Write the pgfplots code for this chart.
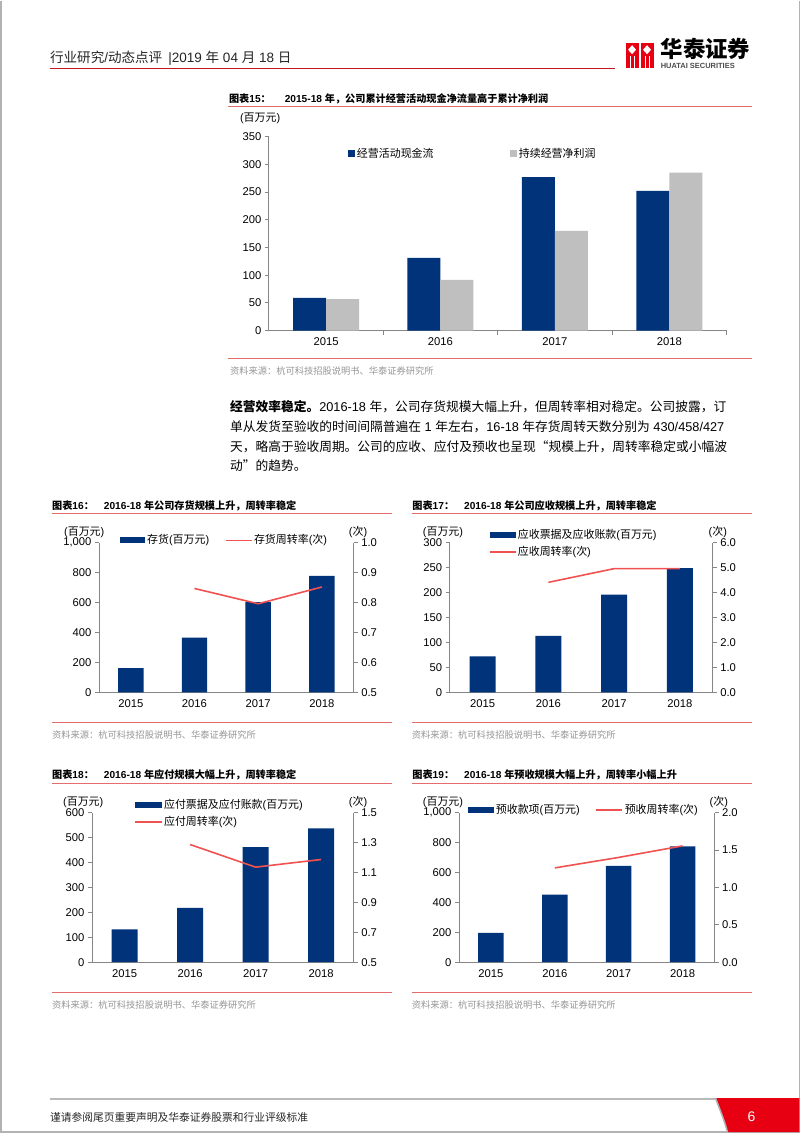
\documentclass[border=0pt]{standalone}
\usepackage{fontspec}
\setmainfont{Liberation Sans}
\newfontfamily\cjkfont{Noto Sans CJK SC}
\usepackage{pgfplots}
\pgfplotsset{compat=1.18}
\XeTeXinterchartokenstate=1
\newXeTeXintercharclass\CJKcls
\makeatletter
\def\setcjkrange#1#2{\count@=#1\relax\loop\XeTeXcharclass\count@=\CJKcls\relax\ifnum\count@<#2\advance\count@ by 1\relax\repeat}
\makeatother
\setcjkrange{"201C}{"201D}
\setcjkrange{"3000}{"303F}
\setcjkrange{"4E00}{"9FFF}
\setcjkrange{"FF00}{"FFEF}
\XeTeXinterchartoks 0 \CJKcls = {\cjkfont}
\XeTeXinterchartoks 4095 \CJKcls = {\cjkfont}
\XeTeXinterchartoks \CJKcls 0 = {\rmfamily}
\XeTeXinterchartoks \CJKcls 4095 = {\rmfamily}

\definecolor{navy}{RGB}{0,51,122}
\definecolor{barGray}{RGB}{191,191,191}
\definecolor{lineRed}{RGB}{240,82,82}
\definecolor{sepRed}{RGB}{228,110,110}
\definecolor{hdrRed}{RGB}{200,20,30}
\definecolor{axisGray}{RGB}{134,134,134}
\definecolor{logoRed}{RGB}{230,0,18}
\definecolor{srcGray}{RGB}{150,150,150}

\pgfplotsset{
  pagechart/.style={scale only axis, axis line style={draw=axisGray,line width=0.8bp},
    tick style={draw=axisGray,line width=0.8bp}, tick align=outside, major tick length=4bp,
    minor tick length=4bp,
    tick label style={font=\fontsize{11.3}{11.3}\selectfont, /pgf/number format/assume math mode=true},
    xmin=-0.5, xmax=3.5, enlargelimits=false},
  barside/.style={pagechart, axis x line*=bottom, axis y line*=left, xtick={0,1,2,3},
    xticklabels={2015,2016,2017,2018}, major x tick style=transparent, ybar},
  lineside/.style={pagechart, axis y line*=right, axis x line=none,
    yticklabel style={/pgf/number format/.cd, fixed, fixed zerofill, precision=1}},
}
\newcommand\lbl{\fontsize{11}{13}\selectfont}
\newcommand\ttl{\bfseries\fontsize{10.2}{12}\selectfont}
\newcommand\src{\fontsize{9.3}{11}\selectfont}

\begin{document}
\begin{tikzpicture}
\begin{scope}[x=1bp,y=-1bp]
\fill[white] (0,0) rectangle (802,1133);
\draw[gray!60, line width=1.5bp] (1,0)--(1,1132.2)--(800,1132.2)--(800,0);
% header
\node[anchor=west, inner sep=0, font=\fontsize{13.6}{15}\selectfont, text=black!85] at (50,57) {行业研究/动态点评 \,|2019 年 04 月 18 日};
\draw[hdrRed, line width=1.5bp] (50,68)--(615,68);
% logo
\fill[logoRed] (626,42) rectangle (639,67);
\fill[logoRed] (641,42) rectangle (654,67);
\fill[white] (632.5,44.5)--(636.5,49)--(632.5,53.5)--(628.5,49)--cycle;
\fill[white] (647.5,44.5)--(651.5,49)--(647.5,53.5)--(643.5,49)--cycle;
\fill[white] (630,55) rectangle (631.2,67);
\fill[white] (634,55) rectangle (635.2,67);
\fill[white] (645,55) rectangle (646.2,67);
\fill[white] (649,55) rectangle (650.2,67);
\node[anchor=west, inner sep=0, font=\bfseries\fontsize{22.5}{24}\selectfont] at (661,48) {华泰证券};
\node[anchor=west, inner sep=0, font=\bfseries\fontsize{7.5}{8}\selectfont, text=black!70] at (661,65.5) {HUATAI SECURITIES};

% chart 15 decorations
\node[anchor=west, inner sep=0, font=\ttl] at (229,98) {图表15：\hspace{14bp}2015-18 年，公司累计经营活动现金净流量高于累计净利润};
\draw[sepRed, line width=0.8bp] (228,106)--(752,106);
\node[anchor=west, inner sep=0, font=\lbl] at (240,118) {(百万元)};
\fill[navy] (348,149.5) rectangle (355,156.5);
\node[anchor=west, inner sep=0, font=\lbl] at (357,153) {经营活动现金流};
\fill[barGray] (510,149.5) rectangle (517,156.5);
\node[anchor=west, inner sep=0, font=\lbl] at (519,153) {持续经营净利润};
\draw[sepRed, line width=0.8bp] (228,358)--(752,358);
\node[anchor=west, inner sep=0, font=\src, text=srcGray] at (230,370) {资料来源：杭可科技招股说明书、华泰证券研究所};

% paragraph
\begin{scope}[every node/.style={anchor=west, inner sep=0, font=\fontsize{12.8}{15}\selectfont}]
\node at (230,406) {{\bfseries 经营效率稳定。}2016-18 年，公司存货规模大幅上升，但周转率相对稳定。公司披露，订};
\node at (230,426) {单从发货至验收的时间间隔普遍在 1 年左右，16-18 年存货周转天数分别为 430/458/427};
\node at (230,446) {天，略高于验收周期。公司的应收、应付及预收也呈现“规模上升，周转率稳定或小幅波};
\node at (230,465) {动”的趋势。};
\end{scope}

% chart 16 decorations
\node[anchor=west, inner sep=0, font=\ttl] at (52,505) {图表16：\hspace{10bp}2016-18 年公司存货规模上升，周转率稳定};
\draw[sepRed, line width=0.8bp] (52,513)--(392,513);
\node[anchor=west, inner sep=0, font=\lbl] at (64,532) {(百万元)};
\node[anchor=west, inner sep=0, font=\lbl] at (349,532) {(次)};
\fill[navy] (120,537) rectangle (145,543);
\node[anchor=west, inner sep=0, font=\lbl] at (147,540) {存货(百万元)};
\draw[lineRed, line width=1.6bp] (226,540)--(252,540);
\node[anchor=west, inner sep=0, font=\lbl] at (254,540) {存货周转率(次)};
\draw[sepRed, line width=0.8bp] (52,722)--(392,722);
\node[anchor=west, inner sep=0, font=\src, text=srcGray] at (52,735) {资料来源：杭可科技招股说明书、华泰证券研究所};

% chart 17 decorations
\node[anchor=west, inner sep=0, font=\ttl] at (412.5,505) {图表17：\hspace{10bp}2016-18 年公司应收规模上升，周转率稳定};
\draw[sepRed, line width=0.8bp] (412,513)--(752,513);
\node[anchor=west, inner sep=0, font=\lbl] at (423,532) {(百万元)};
\node[anchor=west, inner sep=0, font=\lbl] at (709,532) {(次)};
\fill[navy] (490,532) rectangle (516,538);
\node[anchor=west, inner sep=0, font=\lbl] at (518,535) {应收票据及应收账款(百万元)};
\draw[lineRed, line width=1.6bp] (490,551.7)--(516,551.7);
\node[anchor=west, inner sep=0, font=\lbl] at (518,551.7) {应收周转率(次)};
\draw[sepRed, line width=0.8bp] (412,722)--(752,722);
\node[anchor=west, inner sep=0, font=\src, text=srcGray] at (412,735) {资料来源：杭可科技招股说明书、华泰证券研究所};

% chart 18 decorations
\node[anchor=west, inner sep=0, font=\ttl] at (52,775) {图表18：\hspace{10bp}2016-18 年应付规模大幅上升，周转率稳定};
\draw[sepRed, line width=0.8bp] (52,782.7)--(392,782.7);
\node[anchor=west, inner sep=0, font=\lbl] at (63,802) {(百万元)};
\node[anchor=west, inner sep=0, font=\lbl] at (349,802) {(次)};
\fill[navy] (135,802) rectangle (161.7,808);
\node[anchor=west, inner sep=0, font=\lbl] at (164,805) {应付票据及应付账款(百万元)};
\draw[lineRed, line width=1.6bp] (135,821.7)--(161.7,821.7);
\node[anchor=west, inner sep=0, font=\lbl] at (164,821.7) {应付周转率(次)};
\draw[sepRed, line width=0.8bp] (52,992.3)--(392,992.3);
\node[anchor=west, inner sep=0, font=\src, text=srcGray] at (52,1005) {资料来源：杭可科技招股说明书、华泰证券研究所};

% chart 19 decorations
\node[anchor=west, inner sep=0, font=\ttl] at (412.5,775) {图表19：\hspace{10bp}2016-18 年预收规模大幅上升，周转率小幅上升};
\draw[sepRed, line width=0.8bp] (412,782.7)--(752,782.7);
\node[anchor=west, inner sep=0, font=\lbl] at (423,802) {(百万元)};
\node[anchor=west, inner sep=0, font=\lbl] at (710,802) {(次)};
\fill[navy] (468.3,807) rectangle (494,813);
\node[anchor=west, inner sep=0, font=\lbl] at (496,810) {预收款项(百万元)};
\draw[lineRed, line width=1.6bp] (596.7,810)--(622.7,810);
\node[anchor=west, inner sep=0, font=\lbl] at (625,810) {预收周转率(次)};
\draw[sepRed, line width=0.8bp] (412,992.3)--(752,992.3);
\node[anchor=west, inner sep=0, font=\src, text=srcGray] at (412,1005) {资料来源：杭可科技招股说明书、华泰证券研究所};

% footer
\draw[gray!55, line width=1.8bp] (50,1099)--(722,1099);
\fill[logoRed] (716,1098) to[out=-70,in=105] (728,1132.2) -- (800,1132.2) -- (800,1098) -- cycle;
\draw[gray!60, line width=1.5bp] (716,1098) to[out=-70,in=105] (728,1132.2);
\node[anchor=west, inner sep=0, font=\fontsize{10.8}{12}\selectfont, text=black!85] at (50,1117) {谨请参阅尾页重要声明及华泰证券股票和行业评级标准};
\node[inner sep=0, font=\fontsize{14}{15}\selectfont, text=white] at (752,1117) {6};
\end{scope}

% ---------- chart 15 ----------
\begin{axis}[pagechart, at={(269bp,-330bp)}, anchor=south west, width=458bp, height=194bp,
  ymin=0, ymax=350, ytick={0,50,...,350}, axis x line*=bottom, axis y line*=left,
  xtick={0,1,2,3}, xticklabels={2015,2016,2017,2018}, major x tick style=transparent,
  minor xtick={0.5,1.5,2.5,3.5}, ybar, bar width=33bp]
\addplot[fill=navy, draw=none, bar shift=-16.5bp] coordinates {(0,59) (1,131) (2,277) (3,252)};
\addplot[fill=barGray, draw=none, bar shift=16.5bp] coordinates {(0,56.5) (1,91.5) (2,180) (3,285)};
\end{axis}

% ---------- chart 16 ----------
\begin{axis}[barside, at={(99bp,-692bp)}, anchor=south west, width=255bp, height=149.7bp,
  ymin=0, ymax=1000, ytick={0,200,...,1000}, bar width=25.5bp]
\addplot[fill=navy, draw=none] coordinates {(0,162) (1,366) (2,602) (3,778)};
\end{axis}
\begin{axis}[lineside, at={(99bp,-692bp)}, anchor=south west, width=255bp, height=149.7bp,
  ymin=0.5, ymax=1.0, ytick={0.5,0.6,0.7,0.8,0.9,1.0}]
\addplot[lineRed, line width=1.6bp, mark=none] coordinates {(1,0.847) (2,0.796) (3,0.852)};
\end{axis}

% ---------- chart 17 ----------
\begin{axis}[barside, at={(450bp,-692bp)}, anchor=south west, width=263.3bp, height=149.7bp,
  ymin=0, ymax=300, ytick={0,50,...,300}, bar width=26bp]
\addplot[fill=navy, draw=none] coordinates {(0,72) (1,113) (2,196) (3,249)};
\end{axis}
\begin{axis}[lineside, at={(450bp,-692bp)}, anchor=south west, width=263.3bp, height=149.7bp,
  ymin=0, ymax=6, ytick={0,1,2,3,4,5,6}]
\addplot[lineRed, line width=1.6bp, mark=none] coordinates {(1,4.41) (2,4.96) (3,4.96)};
\end{axis}

% ---------- chart 18 ----------
\begin{axis}[barside, at={(92bp,-962bp)}, anchor=south west, width=262bp, height=149.7bp,
  ymin=0, ymax=600, ytick={0,100,...,600}, bar width=26bp]
\addplot[fill=navy, draw=none] coordinates {(0,131) (1,218) (2,461) (3,536)};
\end{axis}
\begin{axis}[lineside, at={(92bp,-962bp)}, anchor=south west, width=262bp, height=149.7bp,
  ymin=0.5, ymax=1.5, ytick={0.5,0.7,0.9,1.1,1.3,1.5}]
\addplot[lineRed, line width=1.6bp, mark=none] coordinates {(1,1.286) (2,1.135) (3,1.186)};
\end{axis}

% ---------- chart 19 ----------
\begin{axis}[barside, at={(459.3bp,-962bp)}, anchor=south west, width=255.7bp, height=149.7bp,
  ymin=0, ymax=1000, ytick={0,200,...,1000}, bar width=25.5bp]
\addplot[fill=navy, draw=none] coordinates {(0,196) (1,452) (2,643) (3,773)};
\end{axis}
\begin{axis}[lineside, at={(459.3bp,-962bp)}, anchor=south west, width=255.7bp, height=149.7bp,
  ymin=0, ymax=2, ytick={0,0.5,1,1.5,2}]
\addplot[lineRed, line width=1.6bp, mark=none] coordinates {(1,1.26) (2,1.40) (3,1.554)};
\end{axis}
\end{tikzpicture}
\end{document}
